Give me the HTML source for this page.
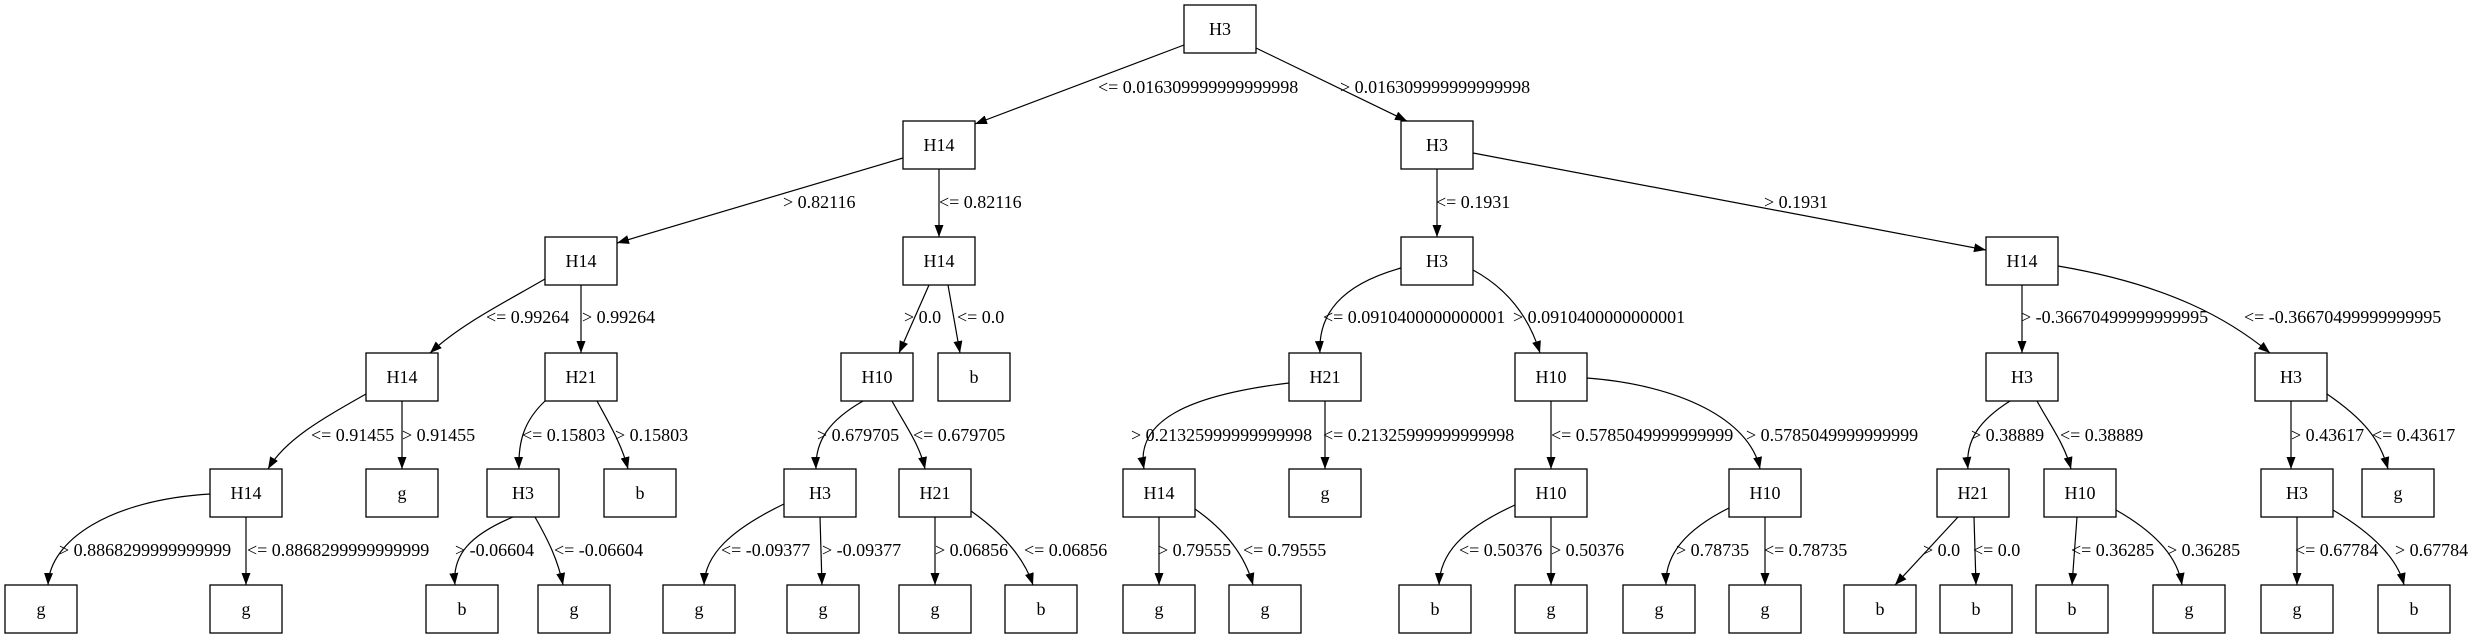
<!DOCTYPE html>
<html><head><meta charset="utf-8"><style>
html,body{margin:0;padding:0;background:#fff;}
svg{display:block;}
text{font-family:"Liberation Serif",serif;font-size:18px;fill:#000;}
.n{fill:#fff;stroke:#000;stroke-width:1.3;}
.e{fill:none;stroke:#000;stroke-width:1.2;}
</style></head><body>
<svg width="2479" height="639" viewBox="0 0 2479 639" xmlns="http://www.w3.org/2000/svg">
<defs><marker id="a" markerWidth="12" markerHeight="9" refX="12" refY="4.5" orient="auto" markerUnits="userSpaceOnUse"><path d="M0,0 L12,4.5 L0,9 z" fill="#000"/></marker></defs>
<g marker-end="url(#a)" class="e">
<path class="e" d="M1184,45 L975,124"/>
<path class="e" d="M1256,48 L1407,121"/>
<path class="e" d="M903,158 L617,243"/>
<path class="e" d="M939,169 L939,237"/>
<path class="e" d="M1437,169 L1437,237"/>
<path class="e" d="M1473,153 L1986,250"/>
<path class="e" d="M545,279 C500,305 460,325 430,353"/>
<path class="e" d="M581,285 L581,353"/>
<path class="e" d="M929,285 L899,353"/>
<path class="e" d="M948,285 L960,353"/>
<path class="e" d="M1401,268 C1340,285 1318,315 1320,353"/>
<path class="e" d="M1473,270 C1510,290 1530,320 1540,353"/>
<path class="e" d="M2022,285 L2022,353"/>
<path class="e" d="M2058,266 C2170,285 2230,320 2270,353"/>
<path class="e" d="M366,394 C320,420 285,440 268,469"/>
<path class="e" d="M402,401 L402,469"/>
<path class="e" d="M545,401 C525,420 518,440 519,469"/>
<path class="e" d="M597,401 C610,425 622,445 628,469"/>
<path class="e" d="M863,401 C830,420 815,440 816,469"/>
<path class="e" d="M892,401 C905,425 920,445 925,469"/>
<path class="e" d="M1289,383 C1190,395 1135,420 1144,469"/>
<path class="e" d="M1325,401 L1325,469"/>
<path class="e" d="M1551,401 L1551,469"/>
<path class="e" d="M1587,378 C1680,385 1750,420 1760,469"/>
<path class="e" d="M2010,401 C1980,420 1965,440 1968,469"/>
<path class="e" d="M2037,401 C2050,425 2065,445 2071,469"/>
<path class="e" d="M2291,401 L2291,469"/>
<path class="e" d="M2327,394 C2365,420 2380,440 2388,469"/>
<path class="e" d="M210,494 C110,500 50,540 48,585"/>
<path class="e" d="M246,517 L246,585"/>
<path class="e" d="M513,517 C470,535 452,555 455,585"/>
<path class="e" d="M535,517 C548,540 558,560 563,585"/>
<path class="e" d="M784,504 C730,530 705,555 704,585"/>
<path class="e" d="M820,517 L822,585"/>
<path class="e" d="M935,517 L935,585"/>
<path class="e" d="M971,511 C1005,535 1025,560 1033,585"/>
<path class="e" d="M1159,517 L1159,585"/>
<path class="e" d="M1195,509 C1225,530 1245,555 1253,585"/>
<path class="e" d="M1515,505 C1460,530 1440,555 1439,585"/>
<path class="e" d="M1551,517 L1551,585"/>
<path class="e" d="M1729,508 C1685,530 1665,555 1666,585"/>
<path class="e" d="M1765,517 L1765,585"/>
<path class="e" d="M1958,517 L1895,585"/>
<path class="e" d="M1974,517 L1976,585"/>
<path class="e" d="M2077,517 L2072,585"/>
<path class="e" d="M2116,510 C2160,535 2178,560 2182,585"/>
<path class="e" d="M2297,517 L2297,585"/>
<path class="e" d="M2333,510 C2375,535 2398,560 2404,585"/>
</g>
<g>
<rect class="n" x="1184" y="5" width="72" height="48"/><text x="1220" y="35" text-anchor="middle">H3</text>
<rect class="n" x="903" y="121" width="72" height="48"/><text x="939" y="151" text-anchor="middle">H14</text>
<rect class="n" x="1401" y="121" width="72" height="48"/><text x="1437" y="151" text-anchor="middle">H3</text>
<rect class="n" x="545" y="237" width="72" height="48"/><text x="581" y="267" text-anchor="middle">H14</text>
<rect class="n" x="903" y="237" width="72" height="48"/><text x="939" y="267" text-anchor="middle">H14</text>
<rect class="n" x="1401" y="237" width="72" height="48"/><text x="1437" y="267" text-anchor="middle">H3</text>
<rect class="n" x="1986" y="237" width="72" height="48"/><text x="2022" y="267" text-anchor="middle">H14</text>
<rect class="n" x="366" y="353" width="72" height="48"/><text x="402" y="383" text-anchor="middle">H14</text>
<rect class="n" x="545" y="353" width="72" height="48"/><text x="581" y="383" text-anchor="middle">H21</text>
<rect class="n" x="841" y="353" width="72" height="48"/><text x="877" y="383" text-anchor="middle">H10</text>
<rect class="n" x="938" y="353" width="72" height="48"/><text x="974" y="383" text-anchor="middle">b</text>
<rect class="n" x="1289" y="353" width="72" height="48"/><text x="1325" y="383" text-anchor="middle">H21</text>
<rect class="n" x="1515" y="353" width="72" height="48"/><text x="1551" y="383" text-anchor="middle">H10</text>
<rect class="n" x="1986" y="353" width="72" height="48"/><text x="2022" y="383" text-anchor="middle">H3</text>
<rect class="n" x="2255" y="353" width="72" height="48"/><text x="2291" y="383" text-anchor="middle">H3</text>
<rect class="n" x="210" y="469" width="72" height="48"/><text x="246" y="499" text-anchor="middle">H14</text>
<rect class="n" x="366" y="469" width="72" height="48"/><text x="402" y="499" text-anchor="middle">g</text>
<rect class="n" x="487" y="469" width="72" height="48"/><text x="523" y="499" text-anchor="middle">H3</text>
<rect class="n" x="604" y="469" width="72" height="48"/><text x="640" y="499" text-anchor="middle">b</text>
<rect class="n" x="784" y="469" width="72" height="48"/><text x="820" y="499" text-anchor="middle">H3</text>
<rect class="n" x="899" y="469" width="72" height="48"/><text x="935" y="499" text-anchor="middle">H21</text>
<rect class="n" x="1123" y="469" width="72" height="48"/><text x="1159" y="499" text-anchor="middle">H14</text>
<rect class="n" x="1289" y="469" width="72" height="48"/><text x="1325" y="499" text-anchor="middle">g</text>
<rect class="n" x="1515" y="469" width="72" height="48"/><text x="1551" y="499" text-anchor="middle">H10</text>
<rect class="n" x="1729" y="469" width="72" height="48"/><text x="1765" y="499" text-anchor="middle">H10</text>
<rect class="n" x="1937" y="469" width="72" height="48"/><text x="1973" y="499" text-anchor="middle">H21</text>
<rect class="n" x="2044" y="469" width="72" height="48"/><text x="2080" y="499" text-anchor="middle">H10</text>
<rect class="n" x="2261" y="469" width="72" height="48"/><text x="2297" y="499" text-anchor="middle">H3</text>
<rect class="n" x="2362" y="469" width="72" height="48"/><text x="2398" y="499" text-anchor="middle">g</text>
<rect class="n" x="5" y="585" width="72" height="48"/><text x="41" y="615" text-anchor="middle">g</text>
<rect class="n" x="210" y="585" width="72" height="48"/><text x="246" y="615" text-anchor="middle">g</text>
<rect class="n" x="426" y="585" width="72" height="48"/><text x="462" y="615" text-anchor="middle">b</text>
<rect class="n" x="538" y="585" width="72" height="48"/><text x="574" y="615" text-anchor="middle">g</text>
<rect class="n" x="663" y="585" width="72" height="48"/><text x="699" y="615" text-anchor="middle">g</text>
<rect class="n" x="787" y="585" width="72" height="48"/><text x="823" y="615" text-anchor="middle">g</text>
<rect class="n" x="899" y="585" width="72" height="48"/><text x="935" y="615" text-anchor="middle">g</text>
<rect class="n" x="1005" y="585" width="72" height="48"/><text x="1041" y="615" text-anchor="middle">b</text>
<rect class="n" x="1123" y="585" width="72" height="48"/><text x="1159" y="615" text-anchor="middle">g</text>
<rect class="n" x="1229" y="585" width="72" height="48"/><text x="1265" y="615" text-anchor="middle">g</text>
<rect class="n" x="1399" y="585" width="72" height="48"/><text x="1435" y="615" text-anchor="middle">b</text>
<rect class="n" x="1515" y="585" width="72" height="48"/><text x="1551" y="615" text-anchor="middle">g</text>
<rect class="n" x="1623" y="585" width="72" height="48"/><text x="1659" y="615" text-anchor="middle">g</text>
<rect class="n" x="1729" y="585" width="72" height="48"/><text x="1765" y="615" text-anchor="middle">g</text>
<rect class="n" x="1844" y="585" width="72" height="48"/><text x="1880" y="615" text-anchor="middle">b</text>
<rect class="n" x="1940" y="585" width="72" height="48"/><text x="1976" y="615" text-anchor="middle">b</text>
<rect class="n" x="2036" y="585" width="72" height="48"/><text x="2072" y="615" text-anchor="middle">b</text>
<rect class="n" x="2153" y="585" width="72" height="48"/><text x="2189" y="615" text-anchor="middle">g</text>
<rect class="n" x="2261" y="585" width="72" height="48"/><text x="2297" y="615" text-anchor="middle">g</text>
<rect class="n" x="2378" y="585" width="72" height="48"/><text x="2414" y="615" text-anchor="middle">b</text>
</g>
<g>
<text x="1098" y="93">&lt;= 0.016309999999999998</text>
<text x="1340" y="93">&gt; 0.016309999999999998</text>
<text x="783" y="208">&gt; 0.82116</text>
<text x="939" y="208">&lt;= 0.82116</text>
<text x="1436" y="208">&lt;= 0.1931</text>
<text x="1764" y="208">&gt; 0.1931</text>
<text x="486" y="323">&lt;= 0.99264</text>
<text x="582" y="323">&gt; 0.99264</text>
<text x="904" y="323">&gt; 0.0</text>
<text x="957" y="323">&lt;= 0.0</text>
<text x="1323" y="323">&lt;= 0.0910400000000001</text>
<text x="1513" y="323">&gt; 0.0910400000000001</text>
<text x="2021" y="323">&gt; -0.36670499999999995</text>
<text x="2244" y="323">&lt;= -0.36670499999999995</text>
<text x="311" y="441">&lt;= 0.91455</text>
<text x="402" y="441">&gt; 0.91455</text>
<text x="522" y="441">&lt;= 0.15803</text>
<text x="615" y="441">&gt; 0.15803</text>
<text x="817" y="441">&gt; 0.679705</text>
<text x="913" y="441">&lt;= 0.679705</text>
<text x="1131" y="441">&gt; 0.21325999999999998</text>
<text x="1323" y="441">&lt;= 0.21325999999999998</text>
<text x="1551" y="441">&lt;= 0.5785049999999999</text>
<text x="1746" y="441">&gt; 0.5785049999999999</text>
<text x="1971" y="441">&gt; 0.38889</text>
<text x="2060" y="441">&lt;= 0.38889</text>
<text x="2291" y="441">&gt; 0.43617</text>
<text x="2372" y="441">&lt;= 0.43617</text>
<text x="59" y="556">&gt; 0.8868299999999999</text>
<text x="247" y="556">&lt;= 0.8868299999999999</text>
<text x="455" y="556">&gt; -0.06604</text>
<text x="554" y="556">&lt;= -0.06604</text>
<text x="721" y="556">&lt;= -0.09377</text>
<text x="822" y="556">&gt; -0.09377</text>
<text x="935" y="556">&gt; 0.06856</text>
<text x="1024" y="556">&lt;= 0.06856</text>
<text x="1158" y="556">&gt; 0.79555</text>
<text x="1243" y="556">&lt;= 0.79555</text>
<text x="1459" y="556">&lt;= 0.50376</text>
<text x="1551" y="556">&gt; 0.50376</text>
<text x="1676" y="556">&gt; 0.78735</text>
<text x="1764" y="556">&lt;= 0.78735</text>
<text x="1923" y="556">&gt; 0.0</text>
<text x="1973" y="556">&lt;= 0.0</text>
<text x="2071" y="556">&lt;= 0.36285</text>
<text x="2167" y="556">&gt; 0.36285</text>
<text x="2295" y="556">&lt;= 0.67784</text>
<text x="2395" y="556">&gt; 0.67784</text>
</g>
</svg>
</body></html>
